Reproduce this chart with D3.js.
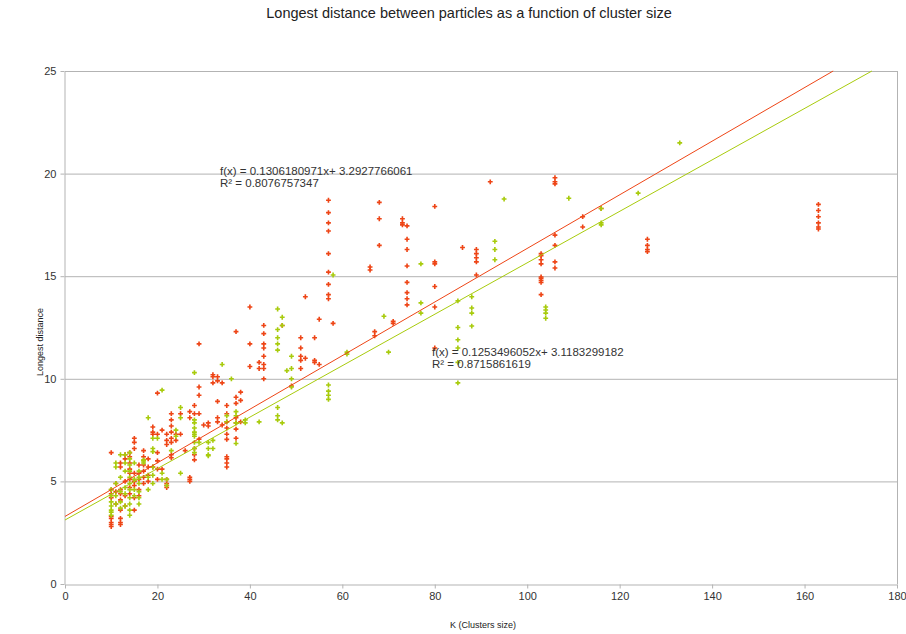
<!DOCTYPE html>
<html lang="en">
  <head>
    <meta charset="utf-8">
    <title>Longest distance between particles</title>
    <script src="https://cdn.jsdelivr.net/npm/d3@7"></script>
    <style>
      body { margin: 0; background: #fff; }
      text { font-family: "Liberation Sans", Arial, sans-serif; }
    </style>
  </head>
  <body>
    <script type="text/javascript">
      // cluster size K and longest distance
      var redK = [
        10,10,10,10,10,10,10,10,10, 11,11,11,
        12,12,12,12,12,12,12,12,12, 13,13,13,13,13,
        14,14,14,14,14,14,14,14, 15,15,15,15,15,15,15,15,
        16,16,16,16,16, 17,17,17,17,17,17, 18,18,18,18,
        19,19,19,19, 20,20,20,20,20,20, 21,21,
        22,22,22,22,22,22,22, 23,23,23,23,23,23,23,23,
        24,24, 25,25, 26, 27,27,27,27,27, 28,28,28,28,28,
        29,29,29,29,29, 30, 31,31, 32,32,32, 33,33,33,33,33,
        34,34, 35,35,35,35,35,35,35,35,35,35,
        37,37,37,37,37,37,37, 38,38,38, 40,40,40, 42,42,
        43,43,43,43,43,43,43,43, 47, 49, 51,51,51,51,51, 52,52,
        54,54,54, 55,55, 57,57,57,57,57,57,57,57,57, 58,
        66,66, 67,67, 68,68,68, 71,71, 73,73,73,
        74,74,74,74,74,74,74,74, 80,80,80,80,80,80, 86,
        89,89,89,89,89, 92, 103,103,103,103,103,103,103,103,103,
        106,106,106,106,106,106,106, 112,112, 116,
        126,126,126,126, 163,163,163,163,163,163
      ];
      var redD = [
        6.4,4.6,4.4,4.2,3.3,3.2,3.0,2.9,2.8, 4.9,4.5,3.9,
        5.9,5.7,4.6,4.4,4.1,3.6,3.2,3.0,2.9, 6.3,6.1,5.0,4.3,3.8,
        6.4,6.2,5.9,5.6,5.4,5.1,4.7,4.4, 7.1,6.9,6.6,5.4,5.0,4.8,4.2,3.6,
        5.8,5.4,5.1,4.6,4.3, 6.5,6.2,5.8,5.5,5.2,4.9, 6.1,5.7,5.3,5.0,
        7.65,7.4,7.3,5.7, 9.3,7.3,6.4,6.0,5.6,5.1, 7.5,5.6,
        7.3,7.0,6.8,5.1,4.9,4.8,4.7, 8.3,8.0,7.7,7.4,7.1,6.9,6.3,6.15,
        7.0,7.3, 8.3,7.3, 6.5, 8.4,8.1,5.2,5.1,5.0, 8.7,8.3,6.6,6.3,6.05,
        11.7,9.6,9.2,8.3,7.06, 7.75, 7.7,7.85, 10.2,10.1,9.8, 10.1,9.9,8.9,8.1,7.9,
        9.8,7.75, 8.7,8.3,7.9,7.6,7.3,7.05,6.2,6.1,5.9,5.7,
        12.3,9.1,8.8,8.1,7.85,7.55,7.1, 9.35,8.95,7.9, 13.5,11.7,10.6, 10.8,10.5,
        12.6,12.2,11.7,11.5,11.1,10.7,10.5,10.0, 12.6, 9.65, 12.0,11.5,11.1,10.9,10.5, 14.0,11.0,
        12.0,10.9,10.8, 12.9,10.7, 18.7,18.1,17.6,17.2,16.1,15.2,14.6,14.1,13.9, 12.7,
        15.45,15.3, 12.3,12.1, 18.6,17.8,16.5, 12.8,12.7, 17.8,17.6,17.5,
        17.45,16.8,16.3,15.5,14.7,14.2,13.9,13.6, 18.4,15.7,15.6,14.5,13.5,11.5, 16.4,
        16.3,16.1,15.9,15.7,15.06, 19.6, 16.1,16.0,15.8,15.6,14.96,14.9,14.8,14.7,14.1,
        19.8,19.6,19.5,17.0,16.5,15.7,15.4, 17.9,17.4, 18.3,
        16.8,16.5,16.3,16.2, 18.5,18.2,17.9,17.6,17.4,17.3
      ];

      var greenK = [
        10,10,10,10,10,10,10, 11,11,11,11,11, 12,12,12,12,12,
        13,13,13,13,13,13, 14,14,14,14,14,14,14,14,14,14,14,
        15,15,15,15, 16,16,16,16,16,16, 17,17,17, 18,18,18,
        19,19,19,19,19,19, 20, 21,21,21, 22,22, 23, 24,24, 25,25,25,
        28,28,28,28,28,28,28,28,28,28, 29, 31,31,31,31, 32,32,
        34, 35,35, 36, 37,37,37,37, 39,39, 42,
        46,46,46,46,46,46,46,46, 47,47,47, 48, 49,49,49,49,
        57,57,57,57, 58, 61,61, 69, 70, 77,77,77,
        85,85,85,85,85,85, 88,88,88,88, 93,93,93, 95,
        104,104,104,104, 109, 116,116,116, 124, 133
      ];
      var greenD = [
        4.6,4.3,4.0,3.8,3.6,3.5,3.35, 5.9,5.7,4.9,4.3,3.9, 6.3,5.2,4.5,4.0,3.7,
        6.3,5.9,5.5,4.7,4.4,3.8, 6.4,6.1,5.8,5.5,5.2,4.9,4.6,4.2,3.9,3.6,3.35,
        5.9,5.1,4.6,4.3, 5.5,5.2,4.9,4.5,4.2,3.9, 6.05,6.0,5.9, 8.1,5.2,4.6,
        7.1,6.6,6.45,5.7,5.3,4.9, 7.1, 9.45,5.4,5.1, 5.1,4.8, 6.5, 7.5,7.2, 8.6,8.1,5.4,
        10.3,8.0,7.85,7.6,7.4,7.3,7.2,6.9,6.6,6.4, 6.9, 6.9,6.6,6.3,6.25, 7.0,6.6,
        10.7, 8.2,7.9, 10.0, 8.4,8.2,7.85,6.85, 8.0,7.85, 7.9,
        13.4,12.4,12.0,11.7,11.4,8.6,8.2,8.0, 13.0,12.6,7.85, 10.4, 11.1,10.5,10.0,9.6,
        9.7,9.4,9.2,9.0, 15.06, 11.3,11.2, 13.05, 11.3, 15.6,13.7,13.2,
        13.8,12.5,11.9,11.5,10.8,9.8, 14.0,13.45,13.2,12.57, 16.7,16.3,15.8, 18.76,
        13.5,13.35,13.2,12.95, 18.8, 18.3,17.6,17.5, 19.05, 21.5
      ];

      // linear trend lines as printed on the chart: [slope, intercept]
      var redFit = [0.1306180971, 3.2927766061];
      var greenFit = [0.1253496052, 3.1183299182];
      var redLabel = ["f(x) = 0.1306180971x+ 3.2927766061", "R\u00b2 = 0.8076757347"];
      var greenLabel = ["f(x) = 0.1253496052x+ 3.1183299182", "R\u00b2 = 0.8715861619"];

      var xTicks = [0, 20, 40, 60, 80, 100, 120, 140, 160, 180];
      var yTicks = [0, 5, 10, 15, 20, 25];

      var w = 906;
      var h = 634;
      var redColor = "#ee4516";
      var greenColor = "#a8cb0c";
      var gridColor = "#b3b3b3";

      var xScale = d3.scaleLinear()
                     .domain([0, 180])
                     .range([65, 897]);
      var yScale = d3.scaleLinear()
                     .domain([0, 25])
                     .range([584, 71]);

      var svg = d3.select("body")
                  .append("svg")
                  .attr("width", w)
                  .attr("height", h);

      // horizontal grid
      svg.append("g")
         .selectAll("line")
         .data(yTicks.slice(1))
         .enter()
         .append("line")
         .attr("x1", xScale(0))
         .attr("x2", xScale(180))
         .attr("y1", function(d) { return yScale(d) + 0.5; })
         .attr("y2", function(d) { return yScale(d) + 0.5; })
         .attr("stroke", gridColor);

      // right frame
      svg.append("line")
         .attr("x1", xScale(180) + 0.5)
         .attr("x2", xScale(180) + 0.5)
         .attr("y1", yScale(25))
         .attr("y2", yScale(0))
         .attr("stroke", gridColor);

      var xAxis = d3.axisBottom(xScale).tickValues(xTicks).tickSizeInner(4).tickSizeOuter(0).tickPadding(4);
      var yAxis = d3.axisLeft(yScale).tickValues(yTicks).tickSizeInner(4).tickSizeOuter(0).tickPadding(4);

      var gx = svg.append("g")
                  .attr("transform", "translate(0," + (yScale(0) + 0.5) + ")")
                  .call(xAxis);
      var gy = svg.append("g")
                  .attr("transform", "translate(" + (xScale(0) - 0.5) + ",0)")
                  .call(yAxis);

      [gx, gy].forEach(function(g) {
        g.selectAll("path, line").attr("stroke", gridColor);
        g.selectAll("text")
         .attr("fill", "#333")
         .style("font-size", "11px")
         .style("font-family", "'Liberation Sans', Arial, sans-serif");
      });

      // points
      function drawPoints(ks, ds, color) {
        svg.append("g")
           .selectAll("path")
           .data(ks.map(function(k, i) { return [k, ds[i]]; }))
           .enter()
           .append("path")
           .attr("d", d3.symbol().type(d3.symbolCross).size(13))
           .attr("transform", function(d) { return "translate(" + xScale(d[0]) + "," + yScale(d[1]) + ")"; })
           .attr("fill", color);
      }
      drawPoints(redK, redD, redColor);
      drawPoints(greenK, greenD, greenColor);

      // trend lines, clipped at the top of the plot
      function drawFit(fit, color) {
        var xEnd = Math.min(180, (25 - fit[1]) / fit[0]);
        svg.append("line")
           .attr("x1", xScale(0))
           .attr("y1", yScale(fit[1]))
           .attr("x2", xScale(xEnd))
           .attr("y2", yScale(fit[0] * xEnd + fit[1]))
           .attr("stroke", color)
           .attr("stroke-width", 1);
      }
      drawFit(redFit, redColor);
      drawFit(greenFit, greenColor);

      // equation labels
      function drawLabel(lines, x, y) {
        svg.append("g")
           .selectAll("text")
           .data(lines)
           .enter()
           .append("text")
           .attr("x", x)
           .attr("y", function(d, i) { return y + i * 12; })
           .attr("fill", "#333")
           .style("font-size", "11.5px")
           .text(function(d) { return d; });
      }
      drawLabel(redLabel, 220, 175);
      drawLabel(greenLabel, 432, 356);

      // titles
      svg.append("text")
         .attr("x", 469)
         .attr("y", 18)
         .attr("text-anchor", "middle")
         .attr("fill", "#222")
         .style("font-size", "14.5px")
         .text("Longest distance between particles as a function of cluster size");

      svg.append("text")
         .attr("x", 483)
         .attr("y", 628)
         .attr("text-anchor", "middle")
         .attr("fill", "#222")
         .style("font-size", "9px")
         .text("K (Clusters size)");

      svg.append("text")
         .attr("transform", "translate(43,342) rotate(-90)")
         .attr("text-anchor", "middle")
         .attr("fill", "#222")
         .style("font-size", "9px")
         .text("Longest distance");
    </script>
  </body>
</html>
